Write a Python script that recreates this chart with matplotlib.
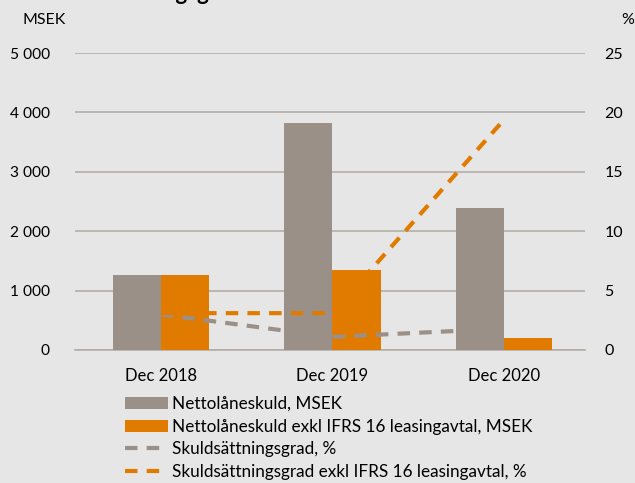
import matplotlib
matplotlib.use('Agg')
import matplotlib.pyplot as plt
from matplotlib.ticker import FuncFormatter
import numpy as np

plt.rcParams['font.family'] = ['Lato', 'DejaVu Sans']

# data
categories = ['Dec 2018', 'Dec 2019', 'Dec 2020']
nettoskuld = [1260, 3820, 2390]
nettoskuld_exkl = [1260, 1350, 200]
grad = [3.0, 1.1, 1.8]
grad_exkl = [3.1, 3.1, 19.4]

labels = ['Nettolåneskuld, MSEK',
          'Nettolåneskuld exkl IFRS 16 leasingavtal, MSEK',
          'Skuldsättningsgrad, %',
          'Skuldsättningsgrad exkl IFRS 16 leasingavtal, %']

bg = '#E6E6E6'
grey = '#9A9088'
orange = '#E07B00'
gridc = '#B5AEA8'

fig = plt.figure(figsize=(6.35, 4.83), dpi=100, facecolor=bg)
ax = fig.add_axes([0.118, 0.2754, 0.803, 0.6148])
ax.set_facecolor(bg)

x = np.arange(len(categories))
w = 0.28
b1 = ax.bar(x - w / 2, nettoskuld, w, color=grey, zorder=3)
b2 = ax.bar(x + w / 2, nettoskuld_exkl, w, color=orange, zorder=3)

ax.set_ylim(0, 5000)
ax.set_yticks(np.arange(0, 5001, 1000))
ax.yaxis.set_major_formatter(FuncFormatter(lambda v, p: f'{int(v):,}'.replace(',', ' ')))
ax.set_xlim(-0.5, 2.47)
ax.set_xticks(x)
ax.set_xticklabels(categories, fontsize=12)
ax.grid(axis='y', color=gridc, lw=1.2, zorder=0)
for s in ['top', 'right', 'left']:
    ax.spines[s].set_visible(False)
ax.spines['bottom'].set_color(gridc)
ax.spines['bottom'].set_linewidth(1.2)
ax.tick_params(length=0, colors='black')
ax.tick_params(axis='y', pad=18, labelsize=11.2)
ax.tick_params(axis='x', pad=13)

ax2 = ax.twinx()
ax2.set_ylim(0, 25)
ax2.set_yticks(np.arange(0, 26, 5))
for s in ax2.spines.values():
    s.set_visible(False)
ax2.tick_params(length=0, labelsize=11.5, pad=14)
l1, = ax2.plot(x, grad, color=grey, lw=3, dashes=(3, 2.2), zorder=4)
l2, = ax2.plot(x, grad_exkl, color=orange, lw=3, dashes=(3, 2.2), zorder=4)

fig.text(22 / 635, 1 - 27 / 483, 'MSEK', fontsize=11.5, ha='left', va='bottom')
fig.text(621 / 635, 1 - 27 / 483, '%', fontsize=11.5, ha='left', va='bottom')
fig.text(53 / 635, 1 - 0.5 / 483, 'Skuldsättningsgrad', fontsize=16,
         fontweight='bold', ha='left', va='baseline')

fig.legend([b1, b2, l1, l2], labels, loc='upper left',
           bbox_to_anchor=(125 / 635, 1 - 396 / 483), frameon=False,
           fontsize=12.3, handlelength=2.5, handletextpad=0.25,
           labelspacing=0.39, borderpad=0, borderaxespad=0)

fig.savefig('out.png', dpi=100, facecolor=bg)
